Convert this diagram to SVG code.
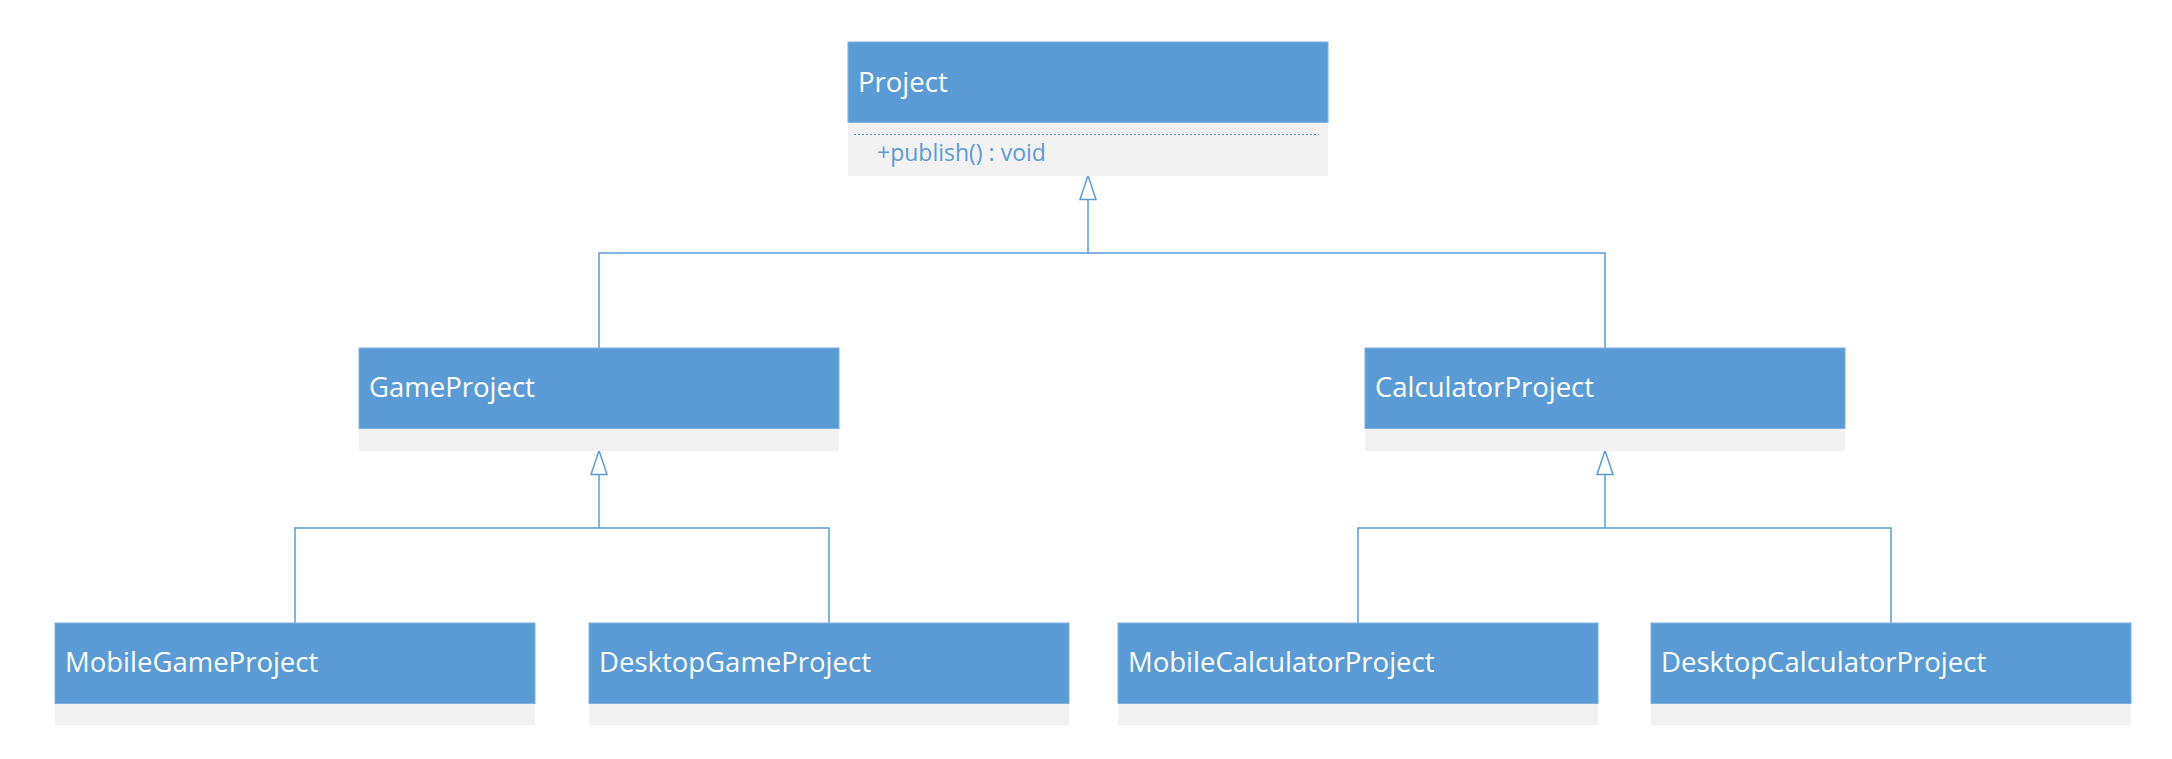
<svg xmlns="http://www.w3.org/2000/svg" width="2172" height="759" viewBox="0 0 2172 759">
<style>
.hdr{fill:#5B9BD5;stroke:#7DAFE0;stroke-width:1}
.body{fill:#F2F2F2}
.title{font-family:"Open Sans","Liberation Sans",sans-serif;font-size:27.5px;fill:#FFFFFF}
.member{font-family:"Open Sans","Liberation Sans",sans-serif;font-size:23px;fill:#5B9BD5}
.conn{fill:none;stroke:#5B9BD5;stroke-width:1.5}
</style>
<defs>
<marker id="inherit" viewBox="-2 -2 28 20" markerWidth="28" markerHeight="20" refX="23" refY="8" markerUnits="userSpaceOnUse" orient="auto">
<path d="M0,0 L24,8 L0,16 Z" fill="#FFFFFF" stroke="#5B9BD5" stroke-width="1.5"/>
</marker>
</defs>
<rect width="2172" height="759" fill="#FFFFFF"/>
<g id="connectors">
<path class="conn" d="M599,348 V253 H1605 V348"/>
<path class="conn" d="M1088,253 V176.5" marker-end="url(#inherit)"/>
<path class="conn" d="M295,623 V528 H829 V623"/>
<path class="conn" d="M599,528 V451.5" marker-end="url(#inherit)"/>
<path class="conn" d="M1358,623 V528 H1891 V623"/>
<path class="conn" d="M1605,528 V451.5" marker-end="url(#inherit)"/>
</g>
<g id="Project">
<rect class="body" x="848" y="122.5" width="480" height="53.5"/>
<rect class="hdr" x="848" y="42" width="480" height="80.5"/>
<text class="title" x="858" y="91.5">Project</text>
<line x1="854" y1="134.5" x2="1319" y2="134.5" stroke="#5B9BD5" stroke-width="1" stroke-dasharray="2,2"/>
<text class="member" x="877" y="160.5">+publish() : void</text>
</g>
<g id="GameProject">
<rect class="body" x="359" y="428.5" width="480" height="22.5"/>
<rect class="hdr" x="359" y="348" width="480" height="80.5"/>
<text class="title" x="369" y="397">GameProject</text>
</g>
<g id="CalculatorProject">
<rect class="body" x="1365" y="428.5" width="480" height="22.5"/>
<rect class="hdr" x="1365" y="348" width="480" height="80.5"/>
<text class="title" x="1375" y="397">CalculatorProject</text>
</g>
<g id="MobileGameProject">
<rect class="body" x="55" y="703.5" width="480" height="22"/>
<rect class="hdr" x="55" y="623" width="480" height="80.5"/>
<text class="title" x="65" y="672">MobileGameProject</text>
</g>
<g id="DesktopGameProject">
<rect class="body" x="589" y="703.5" width="480" height="22"/>
<rect class="hdr" x="589" y="623" width="480" height="80.5"/>
<text class="title" x="599" y="672">DesktopGameProject</text>
</g>
<g id="MobileCalculatorProject">
<rect class="body" x="1118" y="703.5" width="480" height="22"/>
<rect class="hdr" x="1118" y="623" width="480" height="80.5"/>
<text class="title" x="1128" y="672">MobileCalculatorProject</text>
</g>
<g id="DesktopCalculatorProject">
<rect class="body" x="1651" y="703.5" width="480" height="22"/>
<rect class="hdr" x="1651" y="623" width="480" height="80.5"/>
<text class="title" x="1661" y="672">DesktopCalculatorProject</text>
</g>
</svg>
